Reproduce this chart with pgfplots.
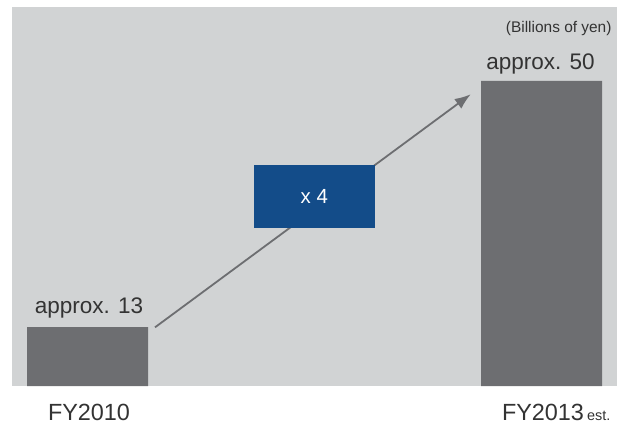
\documentclass[border=0pt]{standalone}
\usepackage{pgfplots}
\pgfplotsset{compat=1.18}
\usetikzlibrary{arrows.meta}
\usepackage{fontspec}
\setmainfont{Liberation Sans}
\definecolor{bg}{HTML}{D1D3D4}
\definecolor{bargray}{HTML}{6D6E71}
\definecolor{boxblue}{HTML}{134C89}
\definecolor{txt}{HTML}{333333}
\begin{document}
\begin{tikzpicture}[x=1bp,y=1bp]
\useasboundingbox (0,0) rectangle (630,426);
\begin{axis}[
 at={(12bp,40bp)}, anchor=south west,
 width=605bp, height=379bp, scale only axis,
 xmin=-0.1663, xmax=1.1663, ymin=4.126, ymax=61.13,
 axis background/.style={fill=bg},
 axis line style={draw=none},
 major tick length=0pt,
 ytick=\empty,
 xtick={0,1},
 xticklabels={FY2010, FY2013\rlap{\hspace{3bp}\fontsize{14.5}{14.5}\selectfont est.}},
 xticklabel style={font=\fontsize{23.5}{23.5}\selectfont, text=txt, anchor=base, yshift=-34bp, xshift=1.5bp},
]
\addplot[ybar, bar width=121bp, fill=bargray, draw=none] coordinates {(0,13) (1,50)};
\addplot[bargray, line width=1.8bp, mark=none, -{Latex[length=16bp,width=12bp]}] coordinates {(0.1487,12.95) (0.8441,48.0)};
\node[fill=boxblue, minimum width=120.7bp, minimum height=62.7bp, inner sep=0pt, text=white, font=\fontsize{20.5}{20.5}\selectfont] at (axis cs:0.4996,32.66) {x 4};
\node[anchor=base, xshift=1.5bp, yshift=13.7bp, font=\fontsize{22.6}{22.6}\selectfont, text=txt] at (axis cs:0,13) {approx. 13};
\node[anchor=base, xshift=-1bp, yshift=11bp, font=\fontsize{22.6}{22.6}\selectfont, text=txt] at (axis cs:1,50) {approx. 50};
\node[anchor=base east, font=\fontsize{15.5}{15.5}\selectfont, text=txt] at (rel axis cs:0.9967,0.9332) {(Billions of yen)};
\end{axis}
\end{tikzpicture}
\end{document}
